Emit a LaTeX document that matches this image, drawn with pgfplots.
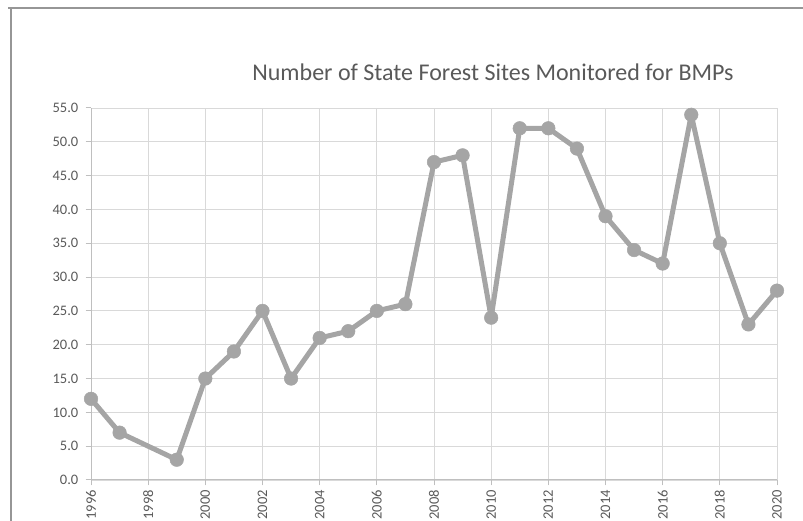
\documentclass[border=0pt]{standalone}
\usepackage{pgfplots}
\pgfplotsset{compat=1.18}
\usepackage{fontspec}
\setmainfont{Carlito}
\definecolor{linegray}{RGB}{165,165,165}
\definecolor{gridgray}{RGB}{217,217,217}
\definecolor{axisgray}{RGB}{191,191,191}
\definecolor{textgray}{RGB}{89,89,89}
\definecolor{framegray}{RGB}{150,150,150}
\begin{document}
\begin{tikzpicture}[x=1pt,y=1pt]
\path[use as bounding box] (0,0) rectangle (803,521);
\draw[framegray, line width=1.2pt] (8,513) -- (803,513);
\draw[framegray, line width=1.2pt] (11,513) -- (11,0);
\node[textgray, font=\fontsize{24}{28}\selectfont] at (493,449) {Number of State Forest Sites Monitored for BMPs};
\begin{axis}[
  at={(91pt,41pt)}, anchor=south west,
  scale only axis, width=686pt, height=372pt,
  xmin=1996, xmax=2020, ymin=0, ymax=55,
  xtick={1996,1998,...,2020}, ytick={0,5,...,55},
  axis x line*=bottom, axis y line*=left,
  axis line style={axisgray, line width=1pt},
  grid=major, major grid style={gridgray, line width=0.9pt},
  tick align=outside, major tick length=5.5pt,
  tick style={axisgray, line width=1pt},
  /pgf/number format/assume math mode=true,
  tick label style={text=textgray, font=\fontsize{14.5}{17}\selectfont},
  xticklabel style={rotate=90, anchor=east, inner sep=4.5pt, /pgf/number format/1000 sep={}},
  yticklabel style={inner sep=7pt, /pgf/number format/.cd, fixed, fixed zerofill, precision=1},
  clip=false,
]
\addplot[linegray, line width=5pt, line join=round, mark=*, mark size=6.8pt, mark options={solid, fill=linegray, draw=linegray, line width=0.5pt}] coordinates {
(1996,12) (1997,7) (1999,3) (2000,15) (2001,19) (2002,25) (2003,15) (2004,21) (2005,22) (2006,25) (2007,26) (2008,47) (2009,48) (2010,24) (2011,52) (2012,52) (2013,49) (2014,39) (2015,34) (2016,32) (2017,54) (2018,35) (2019,23) (2020,28)
};
\end{axis}
\end{tikzpicture}
\end{document}
